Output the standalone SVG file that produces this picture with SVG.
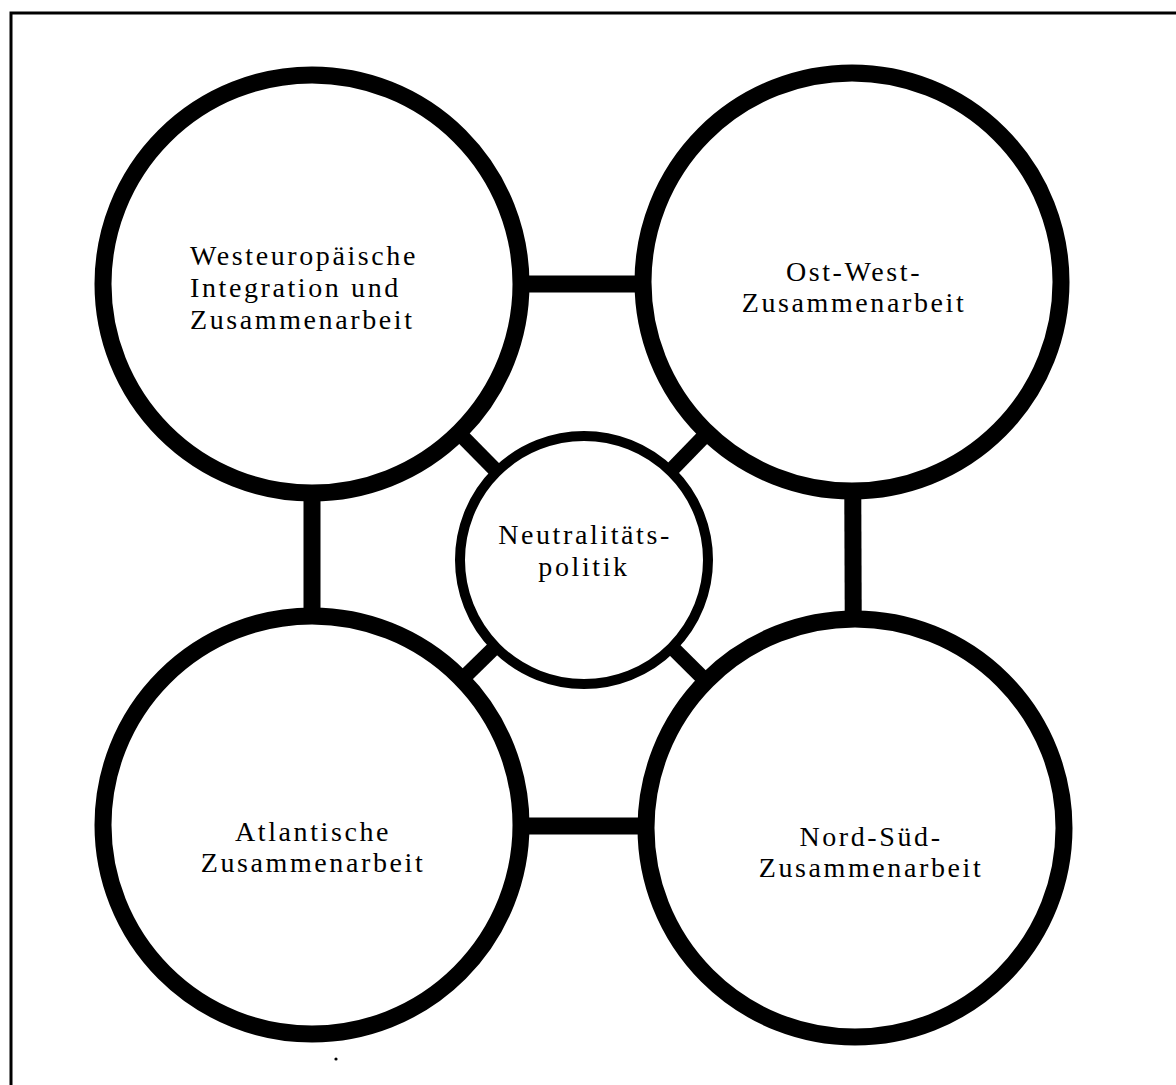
<svg xmlns="http://www.w3.org/2000/svg" width="1176" height="1085" viewBox="0 0 1176 1085">
<style>
.big{fill:#fff;stroke:#000;stroke-width:17}
.mid{fill:#fff;stroke:#000;stroke-width:10}
.bar{stroke:#000;stroke-width:17;fill:none}
.dbar{stroke:#000;stroke-width:15;fill:none}
text{font-family:"Liberation Serif","DejaVu Serif",serif;font-size:28px;fill:#000;letter-spacing:2.6px}
.c{text-anchor:middle}
</style>
<rect x="0" y="0" width="1176" height="1085" fill="#fff"/>
<path d="M11,1085 V13 H1176" fill="none" stroke="#000" stroke-width="3"/>
<g id="connectors">
<line class="bar" x1="312" y1="284" x2="852" y2="284"/>
<line class="bar" x1="312" y1="284" x2="312" y2="826"/>
<line class="bar" x1="852" y1="284" x2="854" y2="828"/>
<line class="bar" x1="312" y1="826" x2="854" y2="826"/>
<line class="dbar" x1="584" y1="560" x2="312" y2="284"/>
<line class="dbar" x1="584" y1="560" x2="852" y2="284"/>
<line class="dbar" x1="584" y1="560" x2="312" y2="826"/>
<line class="dbar" x1="584" y1="560" x2="854" y2="828"/>
</g>
<g id="node-west">
<circle class="big" cx="312" cy="284" r="209"/>
<text x="190" y="265">Westeuropäische</text>
<text x="190" y="297">Integration und</text>
<text x="190" y="329">Zusammenarbeit</text>
</g>
<g id="node-ostwest">
<circle class="big" cx="852" cy="282" r="209"/>
<text class="c" x="854" y="281">Ost-West-</text>
<text class="c" x="854" y="312">Zusammenarbeit</text>
</g>
<g id="node-atlantic">
<circle class="big" cx="312" cy="825" r="209"/>
<text class="c" x="313" y="841">Atlantische</text>
<text class="c" x="313" y="872">Zusammenarbeit</text>
</g>
<g id="node-nordsued">
<circle class="big" cx="855" cy="828" r="209"/>
<text class="c" x="871" y="846">Nord-Süd-</text>
<text class="c" x="871" y="877">Zusammenarbeit</text>
</g>
<g id="node-neutral">
<circle class="mid" cx="584" cy="560" r="124"/>
<text class="c" x="585" y="544">Neutralitäts-</text>
<text class="c" x="584" y="576">politik</text>
</g>
<circle cx="336" cy="1059" r="1.6" fill="#000"/>
</svg>
